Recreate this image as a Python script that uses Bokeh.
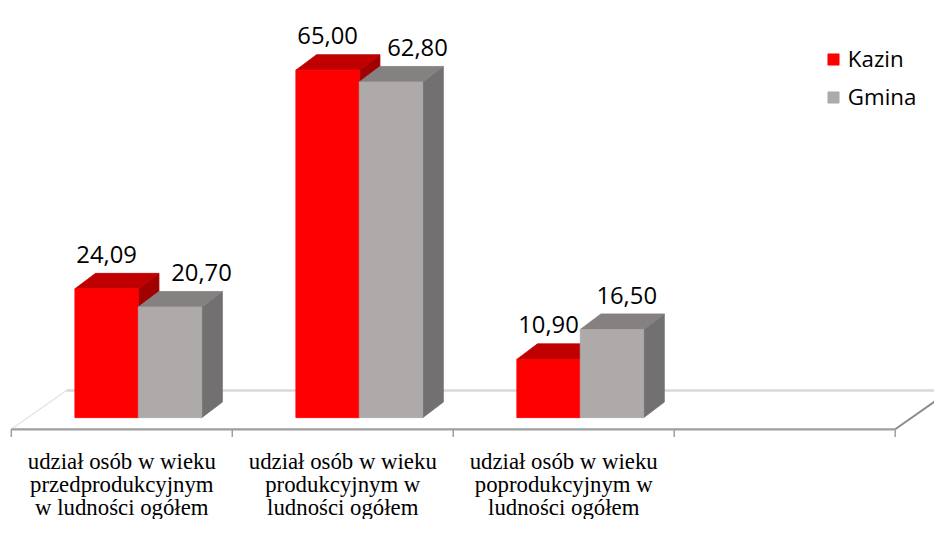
import numpy as np
from bokeh.plotting import figure
from bokeh.models import Range1d, Legend, LegendItem
from bokeh.core.properties import value
from bokeh.embed import file_html
from bokeh.resources import INLINE

# ---------------- data ----------------
categories = [
    "udział osób w wieku\nprzedprodukcyjnym\nw ludności ogółem",
    "udział osób w wieku\nprodukcyjnym w\nludności ogółem",
    "udział osób w wieku\npoprodukcyjnym w\nludności ogółem",
]
series_names = ["Kazin", "Gmina"]
kazin = [24.09, 65.00, 10.90]
gmina = [20.70, 62.80, 16.50]

# ---------------- styling / geometry ----------------
W, H = 934, 519
REF_W, REF_H = 950, 535
SX, SY = W / REF_W, H / REF_H
SLOT_PX = 224.75          # reference pixels per category slot
VAL_PX = 5.51             # reference pixels per value unit
ORIGIN_X = 11             # reference px of slot 0 (floor front)
BASE_Y = 430              # reference px (from top) of value 0

def ux(px):
    return px / SLOT_PX

def uy(px):
    return px / VAL_PX

def fs(px):
    return f"{px * SY:.1f}px"

n_slots = len(categories) + 1

p = figure(width=W, height=H,
           x_range=Range1d(-ORIGIN_X / SLOT_PX, (REF_W - ORIGIN_X) / SLOT_PX),
           y_range=Range1d(-(REF_H - BASE_Y) / VAL_PX, BASE_Y / VAL_PX),
           output_backend="svg", toolbar_location=None, min_border=0)
p.axis.visible = False
p.grid.visible = False
p.outline_line_color = None
p.background_fill_color = "white"

# ---------------- floor ----------------
f0 = -uy(12)
Fdx, Fdy = ux(56), uy(40)
p.patch([0, n_slots, n_slots + Fdx, Fdx], [f0, f0, f0 + Fdy, f0 + Fdy],
        fill_color="white", line_color=None)
p.line([Fdx, n_slots + Fdx], [f0 + Fdy, f0 + Fdy], line_color="#d9d9d9", line_width=2.5)
p.line([0, Fdx], [f0, f0 + Fdy], line_color="#e3e3e3", line_width=1.2)
p.line([n_slots, n_slots + Fdx], [f0, f0 + Fdy], line_color="#8c8c8c", line_width=2)
p.line([0, n_slots], [f0, f0], line_color="#9e9e9e", line_width=2.2)
ticks = list(range(n_slots + 1))
p.segment(x0=ticks, y0=[f0] * len(ticks), x1=ticks, y1=[f0 - uy(8)] * len(ticks),
          line_color="#9e9e9e", line_width=1.5)

# ---------------- 3D bars ----------------
idx = np.arange(len(categories))
shift = ux(16.8)
bw = ux(64.5)
center = idx + 0.5 + shift
bdx, bdy = ux(21), uy(16)

def bar3d(left, right, tops, front, topc, side):
    xs_side = [[r, r + bdx, r + bdx, r] for r in right]
    ys_side = [[0, bdy, t + bdy, t] for t in tops]
    p.patches(xs_side, ys_side, fill_color=side, line_color=side, line_width=0.8)
    xs_top = [[l, r, r + bdx, l + bdx] for l, r in zip(left, right)]
    ys_top = [[t, t, t + bdy, t + bdy] for t in tops]
    p.patches(xs_top, ys_top, fill_color=topc, line_color=topc, line_width=0.8)
    return p.quad(left=left, right=right, bottom=[0] * len(tops), top=tops,
                  fill_color=front, line_color=front, line_width=0.8)

r_kazin = bar3d(center - bw, center, kazin, "#ff0000", "#c00000", "#a00000")
r_gmina = bar3d(center, center + bw, gmina, "#aeaaaa", "#858181", "#727070")

# ---------------- data labels ----------------
def fmt(v):
    return f"{v:.2f}".replace(".", ",")

label_font = value("Open Sans")
p.text(x=list(center - bw / 2), y=[v + uy(35.5) for v in kazin],
       text=[fmt(v) for v in kazin], text_font=label_font, text_font_size=fs(24.5),
       text_align="center", text_baseline="alphabetic", text_color="#000000")
gmina_label_dx = [32, 27, 15]
p.text(x=[c + bw / 2 + ux(d) for c, d in zip(center, gmina_label_dx)],
       y=[v + uy(35.5) for v in gmina],
       text=[fmt(v) for v in gmina], text_font=label_font, text_font_size=fs(24.5),
       text_align="center", text_baseline="alphabetic", text_color="#000000")

# ---------------- category labels ----------------
line_drop = [33, 57, 81]
cat_lines = [c.split("\n") for c in categories]
for k, drop in enumerate(line_drop):
    p.text(x=list(idx + 0.5), y=[f0 - uy(drop)] * len(categories),
           text=[ls[k] for ls in cat_lines],
           text_font=value("Liberation Serif"), text_font_size=fs(23.5),
           text_align="center", text_baseline="alphabetic", text_color="#000000")

# ---------------- legend ----------------
row_h = 39 * SY
legend_top = 41.5 * SY
legend = Legend(items=[LegendItem(label=series_names[0], renderers=[r_kazin]),
                       LegendItem(label=series_names[1], renderers=[r_gmina])],
                location=(840 * SX, H - legend_top - 2 * row_h), orientation="vertical",
                padding=0, margin=0, spacing=0,
                border_line_color=None, background_fill_alpha=0,
                glyph_width=14, glyph_height=14, label_height=int(round(row_h)),
                label_standoff=8, label_text_font="Open Sans",
                label_text_font_size=fs(23), label_text_color="#000000")
p.add_layout(legend)

open("out.html", "w").write(file_html(p, INLINE))
